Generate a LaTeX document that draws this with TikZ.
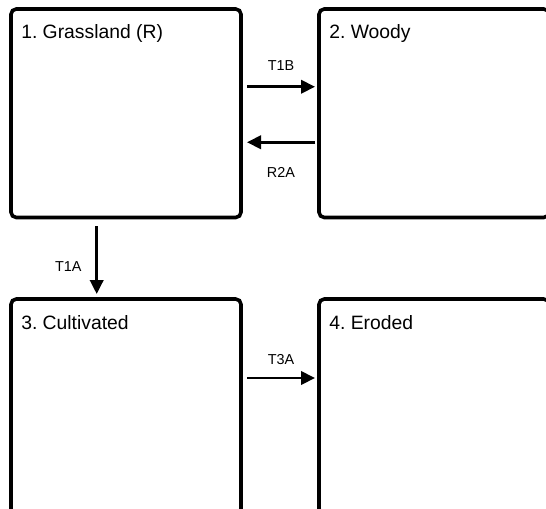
\documentclass[tikz,border=0pt]{standalone}
\usepackage{fontspec}
\setmainfont{Liberation Sans}
\usetikzlibrary{calc,arrows.meta}
\frenchspacing

\begin{document}
\begin{tikzpicture}[x=0.75pt, y=-0.75pt,
  statebox/.style={draw, line width=2.7pt, rounded corners=4pt,
    minimum width=172.5pt, outer sep=0pt, inner sep=0pt},
  boxtitle/.style={anchor=base west, inner sep=0pt,
    font=\fontsize{14.5}{16}\selectfont},
  flow/.style={line width=2.1pt, -{Triangle[length=10.5pt, width=10pt]}},
  flowlabel/.style={inner sep=0pt, font=\fontsize{10.8}{12}\selectfont}]

% Page
\useasboundingbox (0,0) rectangle (546,508);
\clip (0,0) rectangle (546,508);

% States
\node[statebox, minimum height=156.4pt] (grass) at (126,113.25) {};
\node[statebox, minimum height=156.4pt] (woody) at (434,113.25) {};
\node[statebox, minimum height=161.25pt] (cult) at (126,406.5) {};
\node[statebox, minimum height=161.25pt] (eroded) at (434,406.5) {};

% State names
\node[boxtitle] (grassname) at ($(grass.north west)+(10,30)$) {1. Grassland (R)};
\node[boxtitle] (woodyname) at ($(woody.north west)+(10,30)$) {2. Woody};
\node[boxtitle] (cultname) at ($(cult.north west)+(10,30)$) {3. Cultivated};
\node[boxtitle] (erodedname) at ($(eroded.north west)+(10,30)$) {4. Eroded};

% Transitions
\draw[flow] ($(grass.east)+(6,-26.5)$) -- ($(woody.west)+(-4,-26.5)$)
  node[midway, above=11.5pt, flowlabel] (t1b) {T1B};
\draw[flow] ($(woody.west)+(-4,29)$) -- ($(grass.east)+(6,29)$)
  node[midway, below=17.8pt, flowlabel] (r2a) {R2A};
\draw[flow] ($(grass.south)+(-29.3,8.5)$) -- ($(cult.north)+(-29.3,-5)$)
  node[pos=0.59, left=10.3pt, flowlabel] (t1a) {T1A};
\draw[flow] ($(cult.east)+(6,-28.5)$) -- ($(eroded.west)+(-4,-28.5)$)
  node[midway, above=9pt, flowlabel] (t3a) {T3A};

\end{tikzpicture}
\end{document}
